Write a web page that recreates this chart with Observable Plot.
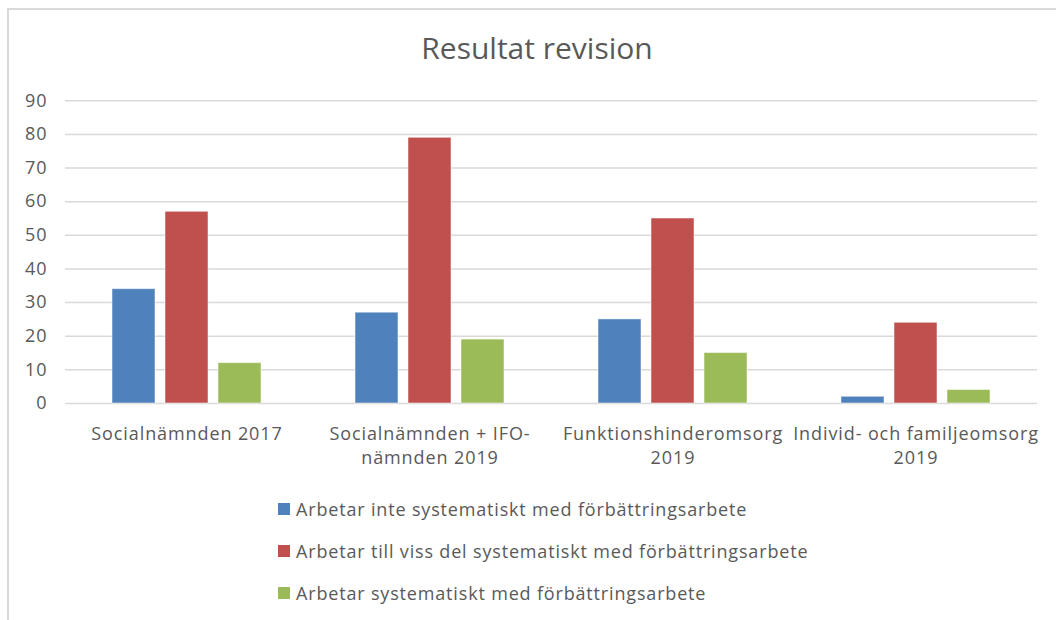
<!DOCTYPE html>
<html>
<head>
<meta charset="utf-8">
<script src="https://cdn.jsdelivr.net/npm/d3@7"></script>
<script src="https://cdn.jsdelivr.net/npm/@observablehq/plot@0.6"></script>
<style>
  html, body { margin: 0; padding: 0; background: #fff; }
  body { width: 1056px; height: 620px; position: relative; overflow: hidden; font-family: "Open Sans", sans-serif; color: #595959; }
  #frame { position: absolute; left: 7px; top: 8px; width: 1100px; height: 700px; border-left: 2px solid #d9d9d9; border-top: 2px solid #d9d9d9; }
  #title { position: absolute; left: 9px; width: 1056px; top: 33px; line-height: 30px; text-align: center; font-size: 30px; color: #595959; }
  #chart { position: absolute; left: 0; top: 0; }
  #legend { position: absolute; left: 278px; top: 488px; font-size: 18px; letter-spacing: 0.83px; color: #595959; }
  .row { display: flex; align-items: center; height: 42px; }
  .sw { width: 12px; height: 12px; margin-right: 6px; }
</style>
</head>
<body>
<div id="frame"></div>
<div id="title">Resultat revision</div>
<div id="chart"></div>
<div id="legend"></div>
<script>
const categories = [
  "Socialnämnden 2017",
  "Socialnämnden + IFO-\nnämnden 2019",
  "Funktionshinderomsorg\n2019",
  "Individ- och familjeomsorg\n2019"
];
const series = [
  "Arbetar inte systematiskt med förbättringsarbete",
  "Arbetar till viss del systematiskt med förbättringsarbete",
  "Arbetar systematiskt med förbättringsarbete"
];
const inteValues = [34, 27, 25, 2];
const vissValues = [57, 79, 55, 24];
const systValues = [12, 19, 15, 4];
const colors = ["#4f81bd", "#c0504d", "#9bbb59"];
const yTicks = [0, 10, 20, 30, 40, 50, 60, 70, 80, 90];

const seriesValues = [inteValues, vissValues, systValues];
const data = [];
categories.forEach((c, i) => {
  series.forEach((s, j) => {
    data.push({cat: c, series: s, value: seriesValues[j][i]});
  });
});

const chart = Plot.plot({
  width: 1056,
  height: 480,
  marginTop: 100.3,
  marginBottom: 77,
  marginLeft: 65,
  marginRight: 19,
  style: {fontFamily: "Open Sans, sans-serif", color: "#595959", background: "transparent", letterSpacing: "0.9px"},
  fx: {domain: categories, paddingInner: 0, paddingOuter: 0, label: null},
  x: {domain: series, paddingInner: 0.19, paddingOuter: 0.875, axis: null},
  y: {domain: [0, 90], label: null},
  color: {domain: series, range: colors},
  marks: [
    Plot.gridY(yTicks, {stroke: "#d9d9d9", strokeOpacity: 1, strokeWidth: 1.5}),
    Plot.axisY(yTicks, {tickSize: 0, tickPadding: 18, fontSize: 18, fill: "#595959", label: null}),
    Plot.axisFx({anchor: "bottom", tickSize: 0, tickPadding: 20, fontSize: 18, fill: "#595959", lineHeight: 1.3, label: null}),
    Plot.barY(data, {fx: "cat", x: "series", y: "value", fill: "series", stroke: "#ffffff", strokeOpacity: 0.5, strokeWidth: 1})
  ]
});
document.getElementById("chart").appendChild(chart);

const legend = document.getElementById("legend");
series.forEach((s, j) => {
  const row = document.createElement("div");
  row.className = "row";
  const sw = document.createElement("div");
  sw.className = "sw";
  sw.style.background = colors[j];
  const t = document.createElement("span");
  t.textContent = s;
  row.appendChild(sw);
  row.appendChild(t);
  legend.appendChild(row);
});
</script>
</body>
</html>
